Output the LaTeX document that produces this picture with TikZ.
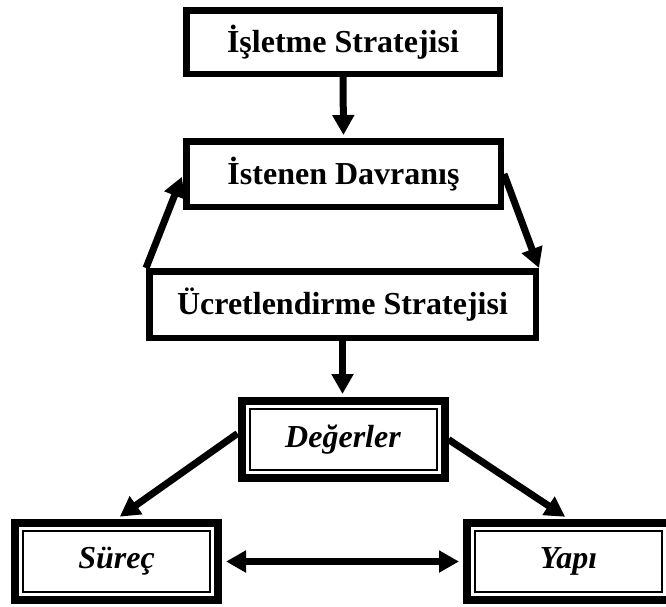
\documentclass[tikz,border=0pt]{standalone}
\usepackage{fontspec}
\setmainfont{Liberation Serif}
\usetikzlibrary{arrows.meta}
\begin{document}
\begin{tikzpicture}[x=1pt,y=-1pt,
  lbl/.style={font=\fontsize{32}{38}\selectfont\bfseries},
  ilbl/.style={font=\fontsize{32}{38}\selectfont\bfseries\itshape},
  sbox/.style={draw, line width=6.5pt, inner sep=0pt, lbl},
  dbox/.style={draw, line width=8pt, inner sep=0pt, ilbl,
    minimum width=203pt, minimum height=77pt,
    path picture={\draw[line width=2pt]
      ([shift={(8pt,-8pt)}]path picture bounding box.north west) rectangle
      ([shift={(-8pt,8pt)}]path picture bounding box.south east);}},
  conn/.style={line width=7pt, -{Triangle[length=20pt,width=21pt]}},
  biconn/.style={line width=7pt, {Triangle[length=20pt,width=21pt]}-{Triangle[length=20pt,width=21pt]}}
]
\useasboundingbox (0,0) rectangle (666,606);
\clip (0,0) rectangle (666,606);

% strategy chain
\node[sbox, minimum width=313.5pt, minimum height=63.5pt] (isl) at (343,42) {İşletme Stratejisi};
\node[sbox, minimum width=314.5pt, minimum height=65.5pt] (dav) at (343.5,174) {İstenen Davranış};
\node[sbox, minimum width=386.5pt, minimum height=66.5pt] (ucr) at (342.5,304.5) {Ücretlendirme Stratejisi};

% values and their two outcomes
\node[dbox] (deg) at (343,439.5) {Değerler};
\node[dbox] (sur) at (116.5,561.5) {Süreç};
\node[dbox] (yap) at (568.5,561.5) {Yapı};

% connectors
\draw[conn, shorten >=3pt] (isl.south) -- (dav.north);
\draw[conn, shorten >=3pt] (ucr.north west) -- (dav.west);
\draw[conn] (dav.east) -- (ucr.north east);
\draw[conn, shorten >=3pt] (ucr.south) -- (ucr.south |- deg.north);
\draw[conn, shorten >=4pt] ([yshift=6pt]deg.west) -- (sur.north);
\draw[conn, shorten >=4pt] (deg.east) -- (yap.north);
\draw[biconn, shorten <=4pt, shorten >=4pt] (sur.east) -- (yap.west);
\end{tikzpicture}
\end{document}
